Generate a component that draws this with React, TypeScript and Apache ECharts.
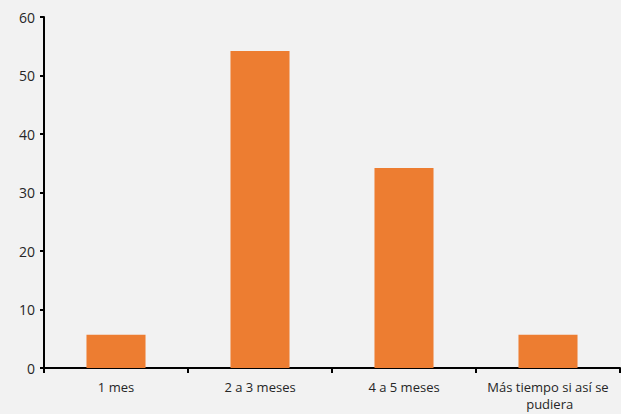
import React, { useEffect, useRef } from "react";
import * as echarts from "echarts";

const categories = ["1 mes", "2 a 3 meses", "4 a 5 meses", "Más tiempo si así se pudiera"];
const values = [5.7, 54.2, 34.2, 5.7];
const yTicks = { min: 0, max: 60, interval: 10 };

export default function App() {
  const ref = useRef<HTMLDivElement>(null);
  useEffect(() => {
    if (!ref.current) return;
    const chart = echarts.init(ref.current, null, { renderer: "svg" });
    const font = "'Open Sans', sans-serif";
    chart.setOption({
      animation: false,
      backgroundColor: "#f2f2f2",
      grid: { left: 44, right: 1, top: 17, bottom: 46, containLabel: false },
      xAxis: {
        type: "category",
        data: categories,
        axisLine: { show: true, lineStyle: { color: "#000", width: 2 } },
        axisTick: { show: true, alignWithLabel: false, length: 5, lineStyle: { color: "#000", width: 2 } },
        axisLabel: {
          interval: 0,
          color: "#262626",
          fontFamily: font,
          fontSize: 13,
          margin: 10,
          width: 140,
          overflow: "break",
          lineHeight: 17,
        },
        splitLine: { show: false },
      },
      yAxis: {
        type: "value",
        min: yTicks.min,
        max: yTicks.max,
        interval: yTicks.interval,
        axisLine: { show: true, lineStyle: { color: "#000", width: 2 } },
        axisTick: { show: true, length: 4, lineStyle: { color: "#000", width: 2 } },
        axisLabel: { color: "#262626", fontFamily: font, fontSize: 14, margin: 9 },
        splitLine: { show: false },
      },
      series: [
        {
          type: "bar",
          data: values,
          barWidth: "41%",
          itemStyle: { color: "#ED7D31" },
        },
      ],
    });
    return () => chart.dispose();
  }, []);
  return <div ref={ref} style={{ width: 621, height: 414, position: "absolute", left: 0, top: 0 }} />;
}
